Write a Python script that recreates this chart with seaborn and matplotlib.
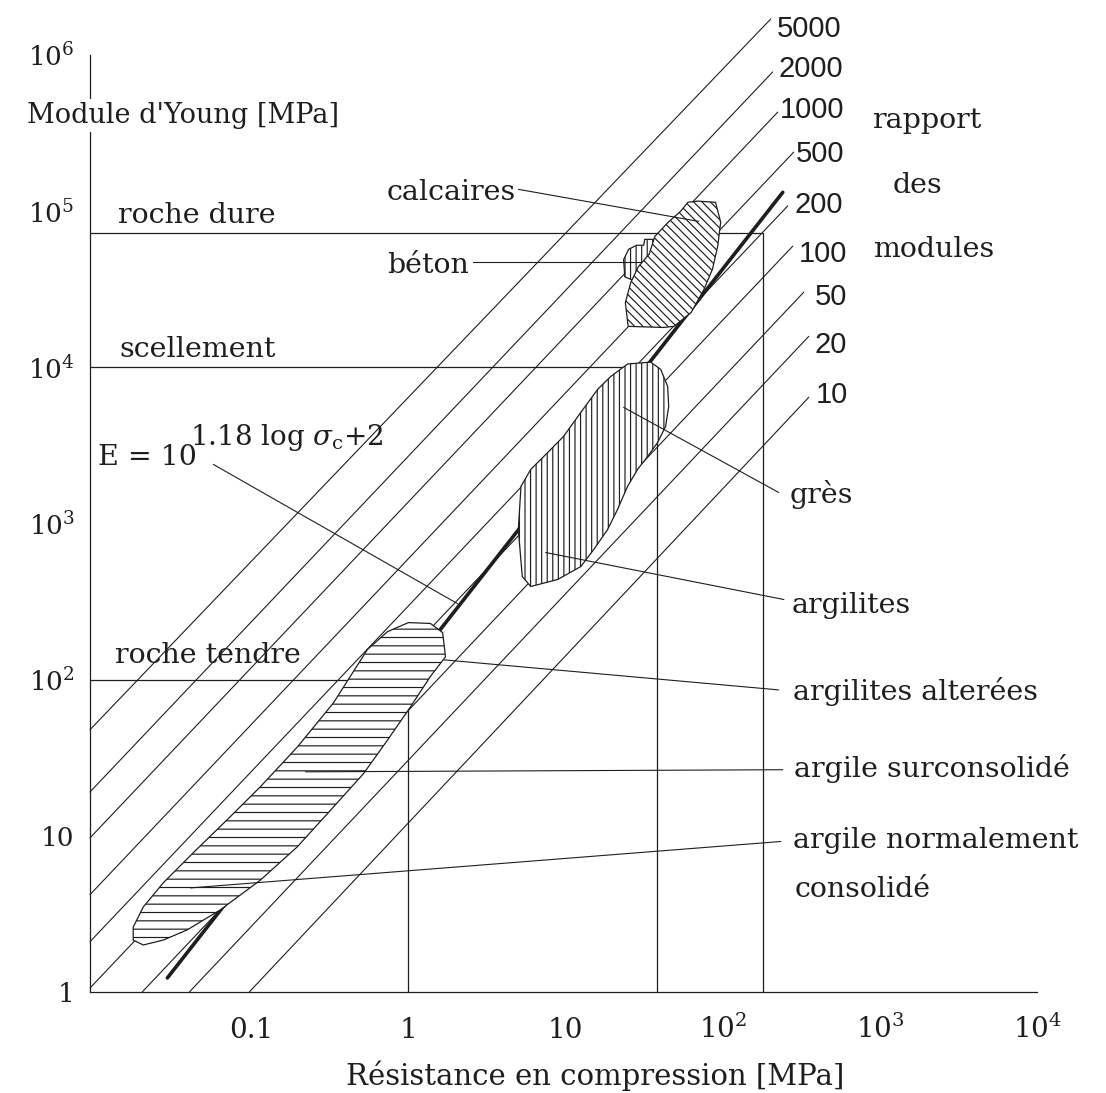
import matplotlib
matplotlib.use('Agg')
import pandas as pd
import matplotlib.pyplot as plt
import seaborn as sns

sns.set_style('white')
plt.rcParams['font.family'] = ['DejaVu Serif']
plt.rcParams['mathtext.fontset'] = 'dejavuserif'
plt.rcParams['hatch.linewidth'] = 0.85

INK = '#1e1e1e'
W, H = 1106, 1093

# axes range (MPa)
x_range = [0.0094, 1e4]
y_range = [1, 1e6]
x_ticks = [0.1, 1, 10, 100, 1000, 10000]
x_tick_labels = ['0.1', '1', '10', '$10^2$', '$10^3$', '$10^4$']
y_ticks = [1, 10, 100, 1e3, 1e4, 1e5, 1e6]
y_tick_labels = ['1', '10', '$10^2$', '$10^3$', '$10^4$', '$10^5$', '$10^6$']

# iso-ratio lines E / sigma_c (ends)
ratio_labels = ['5000', '2000', '1000', '500', '200', '100', '50', '20', '10']
ratio_sig0 = [0.0094, 0.0094, 0.0094, 0.0094, 0.0094, 0.0094, 0.0202, 0.0403, 0.097]
ratio_E0 = [47.8, 19.1, 9.7, 4.2, 2.1, 1.06, 1.0, 1.0, 1.0]
ratio_sig1 = [202, 208, 224, 283, 259, 279, 328, 353, 353]
ratio_E1 = [1.70e6, 7.79e5, 4.31e5, 2.39e5, 1.08e5, 5.97e4, 3.03e4, 1.58e4, 6430]

# regression line E = 10^(1.18 log sc + 2)
fit_sig = [0.0292, 241]
fit_E = [1.23, 1.32e5]

# rock classes: horizontal level then vertical drop
class_names = ['roche dure', 'scellement', 'roche tendre']
class_E = [7.2e4, 1.0e4, 100]
class_sig = [180, 38, 1.0]

# hatched domains
calc_sig = [69, 90, 97, 93, 86, 76, 63, 49, 42, 25, 24, 26, 29, 34, 37, 45, 54, 60]
calc_E = [1.16e5, 1.14e5, 8.5e4, 6.0e4, 4.25e4, 3.16e4, 2.25e4, 1.83e4, 1.8e4,
          1.83e4, 2.6e4, 3.5e4, 4.4e4, 5.3e4, 6.9e4, 8.5e4, 1.0e5, 1.14e5]
beton_sig = [31.9, 38, 38, 30, 27, 23.8, 23.4, 25.2, 28.3, 31.4]
beton_E = [6.6e4, 6.6e4, 4.8e4, 3.7e4, 3.6e4, 3.8e4, 4.9e4, 5.7e4, 6.05e4, 6.05e4]
argilite_sig = [24.8, 34.8, 40.3, 44.6, 45.3, 43.3, 38.5, 33.3, 28.7, 24.8, 21.4, 18.5,
                15.1, 12.5, 8.9, 6.0, 5.3, 5.0, 5.2, 6.0, 7.7, 9.7, 12.5, 16, 19.4]
argilite_E = [1.05e4, 1.08e4, 9700, 7550, 5620, 4190, 3300, 2690, 2220, 1730, 1230, 915,
              681, 530, 438, 395, 457, 915, 1730, 2220, 2850, 3610, 5150, 7230, 8750]
argile_sig = [1.0, 1.38, 1.65, 1.72, 1.38, 1.03, 0.735, 0.517, 0.333, 0.196, 0.114,
              0.0635, 0.0391, 0.0275, 0.0205, 0.0177, 0.0177, 0.0205, 0.0275, 0.0427,
              0.0703, 0.114, 0.196, 0.333, 0.548, 0.735]
argile_E = [232, 229, 200, 140, 105, 67, 41, 25, 15.3, 8.5, 5.2, 3.36, 2.5, 2.15, 2.0,
            2.15, 2.6, 3.5, 5.0, 7.8, 12.7, 20.6, 37, 71, 156, 203]

# leader lines (from label to domain)
leader_names = ['calcaires', 'beton', 'gres', 'argilites', 'alterees', 'surconsolide',
                'normalement', 'formule']
leader_sig0 = [5.0, 2.56, 23.4, 7.46, 1.67, 0.221, 0.041, 0.0573]
leader_E0 = [1.38e5, 4.75e4, 5540, 652, 134, 25.7, 4.64, 2390]
leader_sig1 = [70.3, 30.0, 227, 245, 227, 241, 234, 2.05]
leader_E1 = [8.6e4, 4.75e4, 1580, 326, 86, 26.5, 9.2, 307]


def fx(px):
    return px / W


def fy(py):
    return 1 - py / H


fig = plt.figure(figsize=(W / 100, H / 100), dpi=100)
ax = fig.add_axes([fx(90), fy(992), 947 / W, 937 / H])
ax.set_xscale('log')
ax.set_yscale('log')

ratio_df = pd.DataFrame({
    'sigma': ratio_sig0 + ratio_sig1,
    'E': ratio_E0 + ratio_E1,
    'ratio': ratio_labels + ratio_labels,
})
sns.lineplot(data=ratio_df, x='sigma', y='E', units='ratio', estimator=None, sort=False,
             color=INK, lw=0.8, ax=ax, legend=False)
for ln in ax.lines:
    ln.set_clip_on(False)

for name, e, s in zip(class_names, class_E, class_sig):
    sns.lineplot(x=[x_range[0], s, s], y=[e, e, y_range[0]], sort=False, estimator=None,
                 color=INK, lw=0.9, ax=ax)

sns.lineplot(x=fit_sig, y=fit_E, color=INK, lw=2.6, ax=ax)

blobs = [(beton_sig, beton_E, '|||'), (calc_sig, calc_E, '\\\\\\\\'),
         (argilite_sig, argilite_E, '|||'), (argile_sig, argile_E, '--')]
for s, e, h in blobs:
    ax.fill(s, e, facecolor='white', edgecolor=INK, hatch=h, lw=0.9, zorder=3)

lead_df = pd.DataFrame({
    'sigma': leader_sig0 + leader_sig1,
    'E': leader_E0 + leader_E1,
    'name': leader_names + leader_names,
})
sns.lineplot(data=lead_df, x='sigma', y='E', units='name', estimator=None, sort=False,
             color=INK, lw=0.8, ax=ax, legend=False, zorder=4)

ax.set_xlim(x_range)
ax.set_ylim(y_range)
ax.set_xticks(x_ticks, x_tick_labels)
ax.set_yticks(y_ticks, y_tick_labels)
ax.minorticks_off()
ax.set_xlabel('')
ax.set_ylabel('')
sns.despine(ax=ax)
for sp in ['left', 'bottom']:
    ax.spines[sp].set_color(INK)
    ax.spines[sp].set_linewidth(0.9)
ax.tick_params(axis='x', direction='in', length=13, width=0.8, color=INK, pad=33,
               labelsize=20, labelcolor=INK)
ax.tick_params(axis='y', direction='in', length=8, width=0.8, color=INK, pad=11,
               labelsize=19, labelcolor=INK)
for lab in ax.get_xticklabels():
    lab.set_va('baseline')

txt = dict(color=INK, fontsize=20.5, va='baseline')
ax.text(fx(27), fy(123), "Module d'Young [MPa]", transform=fig.transFigure, zorder=10,
        color=INK, fontsize=19.5, va='baseline',
        bbox=dict(fc='white', ec='none', pad=2))
fig.text(fx(595), fy(1085), 'Résistance en compression [MPa]', ha='center',
         color=INK, fontsize=21, va='baseline')

label_pos = [('roche dure', 118, 223), ('scellement', 119, 357), ('roche tendre', 115, 663),
             ('calcaires', 387, 200), ('béton', 387, 273), ('grès', 790, 503),
             ('argilites', 792, 613), ('argilites alterées', 793, 700),
             ('argile surconsolidé', 794, 777), ('argile normalement', 793, 848),
             ('consolidé', 795, 897), ('rapport', 872, 128), ('des', 893, 193),
             ('modules', 873, 257)]
for t, px, py in label_pos:
    fig.text(fx(px), fy(py), t, **txt)

fig.text(fx(98), fy(465), 'E = 10', **txt)
fig.text(fx(190), fy(445), r'1.18 log $\sigma_{\rm c}$+2', color=INK, fontsize=20,
         va='baseline')

ratio_base = [37, 77, 118, 162, 213, 262, 305, 353, 403]
ratio_left = [777, 778, 780, 796, 794, 799, 815, 815, 816]
for t, px, py in zip(ratio_labels, ratio_left, ratio_base):
    fig.text(fx(px), fy(py), t, color=INK, fontsize=21, va='baseline',
             family=['Liberation Sans', 'DejaVu Sans'])

fig.savefig('out.png', dpi=100, facecolor='white')
